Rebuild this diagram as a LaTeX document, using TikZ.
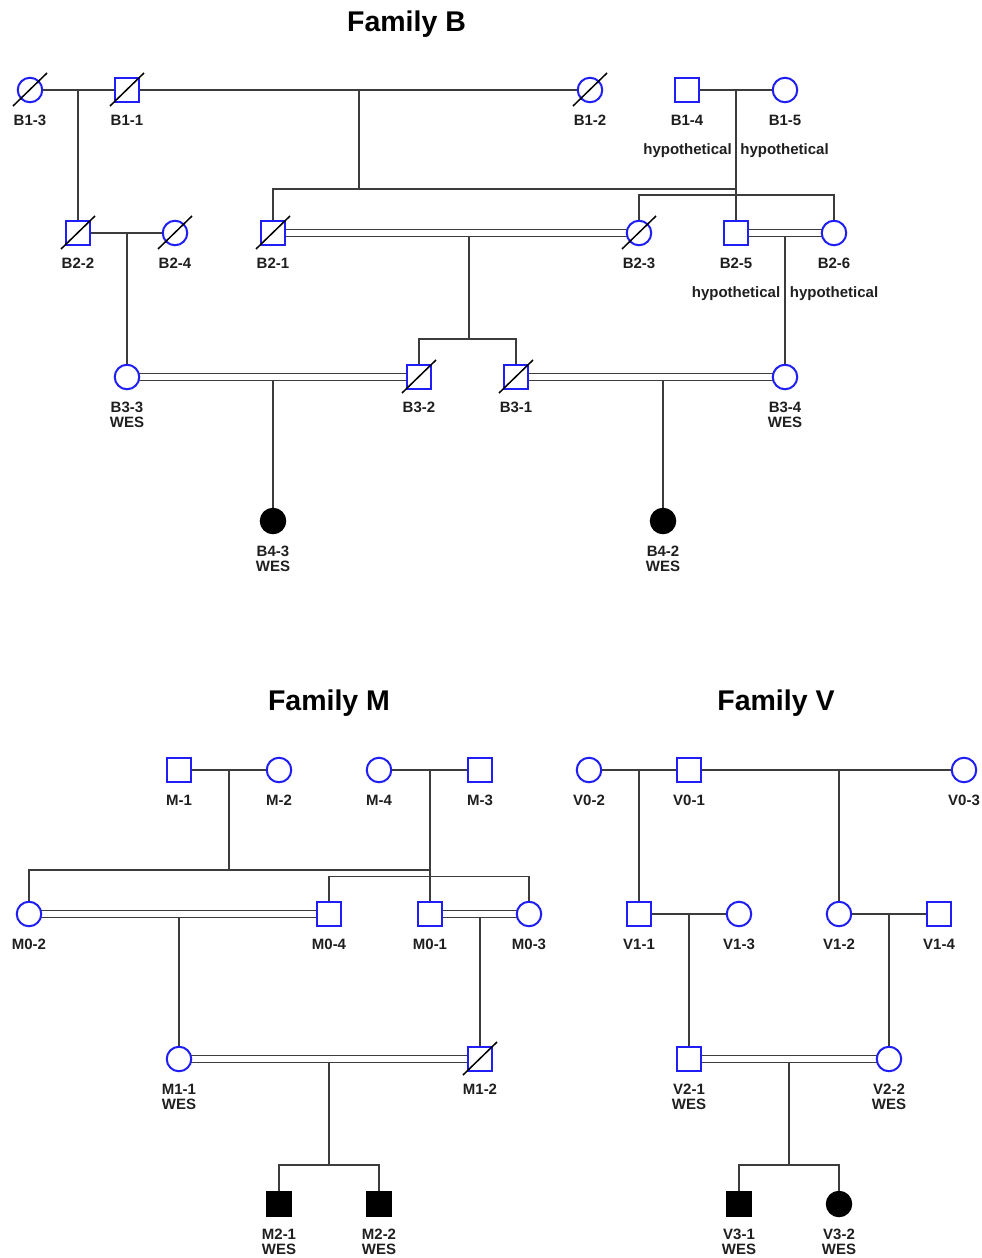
\documentclass[tikz,border=0pt]{standalone}
\usepackage{fontspec}
\setmainfont{Liberation Sans}
\usetikzlibrary{calc}
\definecolor{pblue}{RGB}{30,30,245}
\definecolor{lgray}{RGB}{60,60,60}
\pgfdeclarelayer{bg}
\pgfdeclarelayer{paper}
\pgfsetlayers{paper,bg,main}
\tikzset{
 sq/.style={rectangle, draw=pblue, line width=2pt, minimum size=24.5pt, inner sep=0pt, fill=white},
 ci/.style={circle, draw=pblue, line width=2pt, minimum size=24.5pt, inner sep=0pt, fill=white},
 asq/.style={rectangle, fill=black, draw=black, line width=1pt, minimum size=25.5pt, inner sep=0pt},
 aci/.style={circle, fill=black, draw=black, line width=1pt, minimum size=25.5pt, inner sep=0pt},
 conn/.style={draw=lgray, line width=1.3pt},
 lbl/.style={font=\fontsize{15}{17}\selectfont\bfseries, inner sep=0pt, anchor=base, text=black!88},
 ttl/.style={font=\fontsize{28.5}{32}\selectfont\bfseries, inner sep=0pt, anchor=base},
 deadline/.style={draw=black, line width=1.5pt}
}
\newcommand\pers[5]{\node[#4] (#1) at (#2,#3) {}; \node[lbl] (#1l) at (#2,#3+35) {#5};}
\newcommand\wes[1]{\node[lbl] (#1w) at ($(#1)+(0,50)$) {WES};}
\newcommand\dead[1]{\draw[deadline] ($(#1)+(-17,16)$) -- ($(#1)+(17,-17)$);}
\newcommand\dbl[2]{\draw[conn] ([yshift=3.5pt]#1.center) -- ([yshift=3.5pt]#2.center); \draw[conn] ([yshift=-3.5pt]#1.center) -- ([yshift=-3.5pt]#2.center);}
\begin{document}
\begin{tikzpicture}[x=1pt,y=-1pt]
\begin{pgfonlayer}{paper}
\fill[white] (0,0) rectangle (982,1258);
\end{pgfonlayer}
\useasboundingbox (0,0) rectangle (982,1258);

% titles
\node[ttl] (tB) at (406.5,31) {Family B};
\node[ttl] (tM) at (329,710) {Family M};
\node[ttl] (tV) at (776,710) {Family V};

% ---------------- Family B ----------------
\pers{B13}{30}{90}{ci}{B1-3}
\pers{B11}{127}{90}{sq}{B1-1}
\pers{B12}{590}{90}{ci}{B1-2}
\pers{B14}{687}{90}{sq}{B1-4}
\pers{B15}{785}{90}{ci}{B1-5}
\node[lbl] (h14) at (687.5,154) {hypothetical};
\node[lbl] (h15) at (784.5,154) {hypothetical};

\pers{B22}{78}{233}{sq}{B2-2}
\pers{B24}{175}{233}{ci}{B2-4}
\pers{B21}{273}{233}{sq}{B2-1}
\pers{B23}{639}{233}{ci}{B2-3}
\pers{B25}{736}{233}{sq}{B2-5}
\pers{B26}{834}{233}{ci}{B2-6}
\node[lbl] (h25) at (736,297) {hypothetical};
\node[lbl] (h26) at (834,297) {hypothetical};

\pers{B33}{127}{377}{ci}{B3-3}\wes{B33}
\pers{B32}{419}{377}{sq}{B3-2}
\pers{B31}{516}{377}{sq}{B3-1}
\pers{B34}{785}{377}{ci}{B3-4}\wes{B34}

\pers{B43}{273}{521}{aci}{B4-3}\wes{B43}
\pers{B42}{663}{521}{aci}{B4-2}\wes{B42}

\dead{B13}\dead{B11}\dead{B12}\dead{B22}\dead{B24}\dead{B21}\dead{B23}\dead{B32}\dead{B31}

% ---------------- Family M ----------------
\pers{M1}{179}{770}{sq}{M-1}
\pers{M2}{279}{770}{ci}{M-2}
\pers{M4}{379}{770}{ci}{M-4}
\pers{M3}{480}{770}{sq}{M-3}

\pers{M02}{29}{914}{ci}{M0-2}
\pers{M04}{329}{914}{sq}{M0-4}
\pers{M01}{430}{914}{sq}{M0-1}
\pers{M03}{529}{914}{ci}{M0-3}

\pers{M11}{179}{1059}{ci}{M1-1}\wes{M11}
\pers{M12}{480}{1059}{sq}{M1-2}
\dead{M12}

\pers{M21}{279}{1204}{asq}{M2-1}\wes{M21}
\pers{M22}{379}{1204}{asq}{M2-2}\wes{M22}

% ---------------- Family V ----------------
\pers{V02}{589}{770}{ci}{V0-2}
\pers{V01}{689}{770}{sq}{V0-1}
\pers{V03}{964}{770}{ci}{V0-3}

\pers{V11}{639}{914}{sq}{V1-1}
\pers{V13}{739}{914}{ci}{V1-3}
\pers{V12}{839}{914}{ci}{V1-2}
\pers{V14}{939}{914}{sq}{V1-4}

\pers{V21}{689}{1059}{sq}{V2-1}\wes{V21}
\pers{V22}{889}{1059}{ci}{V2-2}\wes{V22}

\pers{V31}{739}{1204}{asq}{V3-1}\wes{V31}
\pers{V32}{839}{1204}{aci}{V3-2}\wes{V32}

% ---------------- connectors ----------------
\begin{pgfonlayer}{bg}
% Family B
\coordinate (mB1) at (78,90);
\coordinate (mB2) at (359,90);
\coordinate (sB2) at (359,189);
\coordinate (sB2r) at (736,189);
\coordinate (mB3) at (736,90);
\coordinate (sB3) at (736,195);
\draw[conn] (B13) -- (B11);
\draw[conn] (mB1) -- (B22);
\draw[conn] (B11) -- (B12);
\draw[conn] (mB2) -- (sB2);
\draw[conn] (B21.center) |- (sB2r);
\draw[conn] (B14) -- (B15);
\draw[conn] (mB3) -- (B25.north);
\draw[conn] (B23.center) |- (sB3) -| (B26.center);

\coordinate (mB4) at (127,233);
\draw[conn] (B22) -- (B24);
\draw[conn] (mB4) -- (B33);

\dbl{B21}{B23}
\coordinate (mB5) at (469,236.5);
\coordinate (sB5) at (469,339);
\draw[conn] (mB5) -- (sB5);
\draw[conn] (B32.center) |- (sB5) -| (B31.center);

\dbl{B25}{B26}
\coordinate (mB6) at (785,236.5);
\draw[conn] (mB6) -- (B34);

\dbl{B33}{B32}
\coordinate (mB7) at (273,380.5);
\draw[conn] (mB7) -- (B43);
\dbl{B31}{B34}
\coordinate (mB8) at (663,380.5);
\draw[conn] (mB8) -- (B42);

% Family M
\coordinate (mM1) at (229,770);
\coordinate (sM1) at (229,870);
\coordinate (sM1r) at (430,870);
\coordinate (mM2) at (430,770);
\coordinate (sM2) at (430,876.5);
\draw[conn] (M1) -- (M2);
\draw[conn] (mM1) -- (sM1);
\draw[conn] (M02.center) |- (sM1r);
\draw[conn] (M4) -- (M3);
\draw[conn] (mM2) -- (M01);
\draw[conn] (M04.center) |- (sM2) -| (M03.center);

\dbl{M02}{M04}
\coordinate (mM3) at (179,917.5);
\draw[conn] (mM3) -- (M11);
\dbl{M01}{M03}
\coordinate (mM4) at (480,917.5);
\draw[conn] (mM4) -- (M12);

\dbl{M11}{M12}
\coordinate (mM5) at (329,1062.5);
\coordinate (sM5) at (329,1165);
\draw[conn] (mM5) -- (sM5);
\draw[conn] (M21.center) |- (sM5) -| (M22.center);

% Family V
\coordinate (mV1) at (639,770);
\coordinate (mV2) at (839,770);
\draw[conn] (V02) -- (V01);
\draw[conn] (V01) -- (V03);
\draw[conn] (mV1) -- (V11);
\draw[conn] (mV2) -- (V12);

\coordinate (mV3) at (689,914);
\coordinate (mV4) at (889,914);
\draw[conn] (V11) -- (V13);
\draw[conn] (V12) -- (V14);
\draw[conn] (mV3) -- (V21);
\draw[conn] (mV4) -- (V22);

\dbl{V21}{V22}
\coordinate (mV5) at (789,1062.5);
\coordinate (sV5) at (789,1165);
\draw[conn] (mV5) -- (sV5);
\draw[conn] (V31.center) |- (sV5) -| (V32.center);
\end{pgfonlayer}
\end{tikzpicture}
\end{document}
